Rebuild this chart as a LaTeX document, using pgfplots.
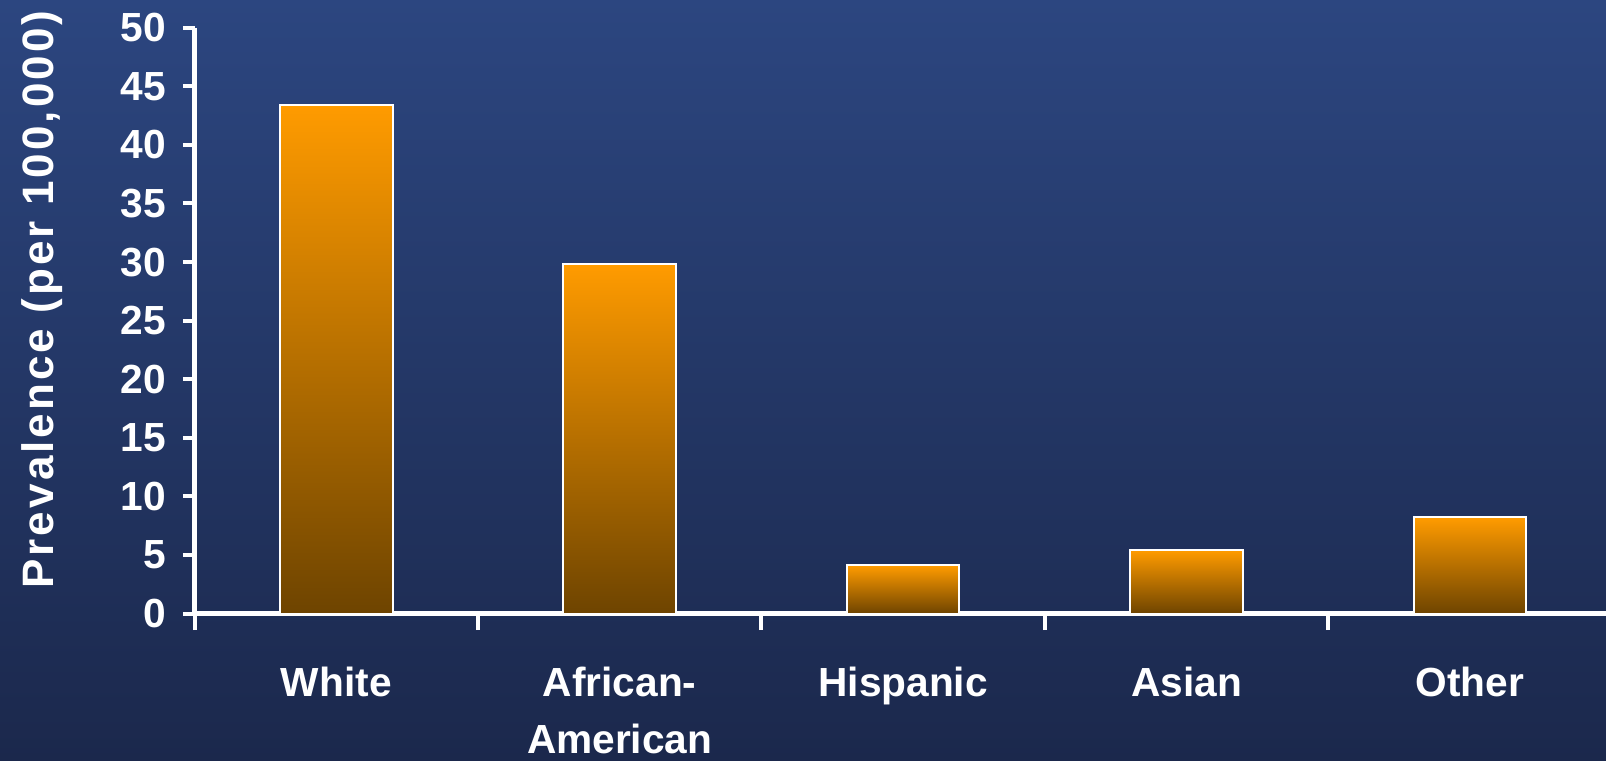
\documentclass[border=0pt]{standalone}
\usepackage{fontspec}
\setmainfont{Liberation Sans}
\usepackage{pgfplots}
\pgfplotsset{compat=1.18}
\definecolor{bgtop}{RGB}{44,70,128}
\definecolor{bgbot}{RGB}{27,40,76}
\definecolor{bartop}{RGB}{255,155,0}
\definecolor{barbot}{RGB}{110,68,0}
\pgfplotsset{mybar/.style={ybar, bar width=33.8pt, bar shift=0pt, draw=white, line width=0.6pt, top color=bartop, bottom color=barbot, mark=none}}
\begin{document}
\begin{tikzpicture}
\path[use as bounding box] (-58.38pt,-43.95pt) rectangle (423.42pt,184.05pt);
\shade[top color=bgtop,bottom color=bgbot] (-58.38pt,-43.95pt) rectangle (423.42pt,184.05pt);
\begin{axis}[
  at={(0,0)}, anchor=south west,
  scale only axis, width=423.42pt, height=175.74pt,
  xmin=-0.5, xmax=4.48, ymin=0, ymax=50,
  axis lines*=left,
  axis line style={white, line width=1.4pt, -},
  x axis line style={line width=1.6pt},
  ytick={0,5,...,50},
  xtick={0,1,2,3,4},
  xticklabels={White,{African-\\American},Hispanic,Asian,Other},
  minor xtick={-0.5,0.5,1.5,2.5,3.5},
  tick align=outside,
  tick style={white, line width=1.2pt},
  major x tick style={draw=none},
  major tick length=3.5pt,
  minor tick length=5pt,
  /pgf/number format/assume math mode=true,
  yticklabel style={font=\bfseries\fontsize{12.2}{14}\selectfont, text=white, xshift=-1.5pt},
  xticklabel style={font=\bfseries\fontsize{12.2}{17}\selectfont, text=white, align=center, anchor=north, yshift=-9pt},
  ylabel={\addfontfeature{LetterSpace=7}Prevalence (per 100,000)},
  ylabel style={font=\bfseries\fontsize{13.2}{15}\selectfont, text=white, at={(axis description cs:-0.108,0.536)}, anchor=center},
  clip=false,
]
\addplot[mybar] coordinates {(0,43.4)};
\addplot[mybar] coordinates {(1,29.8)};
\addplot[mybar] coordinates {(2,4.1)};
\addplot[mybar] coordinates {(3,5.4)};
\addplot[mybar] coordinates {(4,8.2)};
\end{axis}
\end{tikzpicture}
\end{document}
